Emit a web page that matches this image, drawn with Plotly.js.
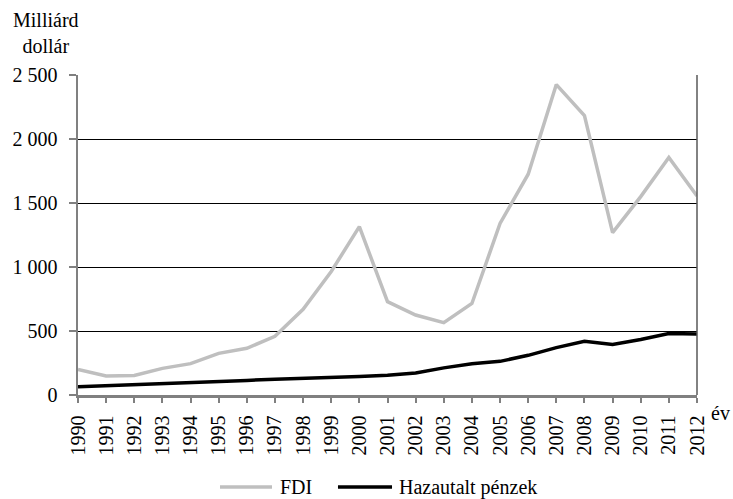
<!DOCTYPE html>
<html>
<head>
<meta charset="utf-8">
<script src="https://cdn.plot.ly/plotly-3.0.1.min.js"></script>
<style>html,body{margin:0;padding:0;background:#fff;}#chart{width:733px;height:499px;}</style>
</head>
<body>
<div id="chart"></div>
<script>
const years = [1990,1991,1992,1993,1994,1995,1996,1997,1998,1999,2000,2001,2002,2003,2004,2005,2006,2007,2008,2009,2010,2011,2012];
const fdi = [200,148,152,208,245,325,365,458,670,965,1315,729,625,565,715,1340,1725,2425,2182,1268,1550,1855,1555];
const remittances = [65,72,80,88,97,106,114,124,130,137,145,155,172,212,244,263,310,370,420,395,433,480,476];
const yTickVals = [0,500,1000,1500,2000,2500];
const yTickText = ['0','500','1 000','1 500','2 000','2 500'];
const seriesNames = ['FDI','Hazautalt pénzek'];
const seriesColors = ['#bfbfbf','#000000'];
const yUnit = 'Milliárd<br>dollár';
const xUnit = 'év';

const font = {family: 'Liberation Serif, Times New Roman, serif', size: 20, color: '#000'};

const traces = [
  {x: years, y: fdi, name: seriesNames[0], type: 'scatter', mode: 'lines',
   line: {color: seriesColors[0], width: 3.5}},
  {x: years, y: remittances, name: seriesNames[1], type: 'scatter', mode: 'lines',
   line: {color: seriesColors[1], width: 3.5}}
];

// manual legend (longer line samples like the reference)
const legendY = -0.2875;
const legendItems = [
  {x0: 0.2294, x1: 0.3134, tx: 0.3231},
  {x0: 0.4200, x1: 0.5073, tx: 0.5153}
];
const legendShapes = legendItems.map((it, i) => ({
  type: 'line', xref: 'paper', yref: 'paper', x0: it.x0, x1: it.x1, y0: legendY, y1: legendY,
  line: {color: seriesColors[i], width: 3.5}
}));
const legendTexts = legendItems.map((it, i) => ({
  text: seriesNames[i], xref: 'paper', yref: 'paper', x: it.tx, y: legendY,
  xanchor: 'left', yanchor: 'middle', showarrow: false, font: font
}));

const layout = {
  width: 733, height: 499,
  margin: {l: 78, r: 36, t: 75, b: 104, autoexpand: false},
  paper_bgcolor: '#fff', plot_bgcolor: '#fff',
  font: font,
  showlegend: false,
  xaxis: {
    range: [1990, 2012], tickmode: 'array', tickvals: years, ticktext: years.map(String),
    tickangle: -90, ticks: 'outside', ticklen: 5, tickwidth: 2, tickcolor: '#808080',
    showline: true, linecolor: '#808080', linewidth: 2.5, showgrid: false, zeroline: false,
    tickfont: font, ticklabelstandoff: 5, automargin: false
  },
  yaxis: {
    range: [0, 2500], tickmode: 'array', tickvals: yTickVals, ticktext: yTickText,
    ticks: 'outside', ticklen: 7, tickwidth: 2, tickcolor: '#808080',
    showline: true, linecolor: '#808080', linewidth: 2.5,
    showgrid: true, gridcolor: '#000', gridwidth: 1, zeroline: false,
    tickfont: font, ticklabelstandoff: 7, automargin: false
  },
  shapes: [
    {type: 'line', xref: 'paper', yref: 'paper', x0: 1, x1: 1, y0: 0, y1: 1,
     line: {color: '#595959', width: 1.5}}
  ].concat(legendShapes),
  annotations: [
    {text: yUnit, xref: 'paper', yref: 'paper', x: -0.0517, y: 1.1297, xanchor: 'center', yanchor: 'middle',
     showarrow: false, font: font, align: 'center'},
    {text: xUnit, xref: 'paper', yref: 'paper', x: 1.0194, y: -0.056, xanchor: 'left', yanchor: 'middle',
     showarrow: false, font: font}
  ].concat(legendTexts)
};

Plotly.newPlot('chart', traces, layout, {displayModeBar: false, staticPlot: true});
</script>
</body>
</html>
